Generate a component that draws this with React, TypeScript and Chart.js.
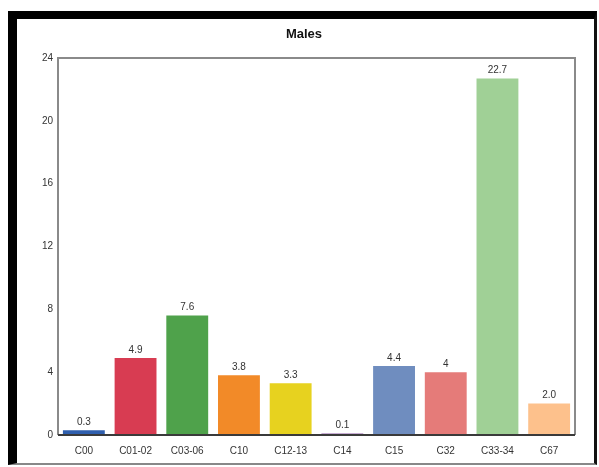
import React, { useEffect, useRef } from "react";
import { Chart, registerables } from "chart.js";

Chart.register(...registerables);

const categories = ["C00", "C01-02", "C03-06", "C10", "C12-13", "C14", "C15", "C32", "C33-34", "C67"];
const values = [0.3, 4.9, 7.6, 3.8, 3.3, 0.1, 4.4, 4, 22.7, 2.0];
const valueLabels = ["0.3", "4.9", "7.6", "3.8", "3.3", "0.1", "4.4", "4", "22.7", "2.0"];
const barColors = [
  "#2f5fae",
  "#d83c52",
  "#4fa24b",
  "#f28a28",
  "#e7d21f",
  "#8f5aa8",
  "#6f8dbf",
  "#e57b79",
  "#a0d096",
  "#fdc18c",
];
const yTicks = [0, 4, 8, 12, 16, 20, 24];
const chartTitle = "Males";

const FONT = "'Liberation Sans', Arial, sans-serif";

const framePlugin = {
  id: "framePlugin",
  afterDatasetsDraw(chart: any) {
    const { ctx, chartArea } = chart;
    const { left, right, top, bottom } = chartArea;
    ctx.save();
    ctx.strokeStyle = "#8a8a8a";
    ctx.lineWidth = 2;
    ctx.beginPath();
    ctx.moveTo(left, bottom);
    ctx.lineTo(left, top);
    ctx.lineTo(right, top);
    ctx.lineTo(right, bottom);
    ctx.stroke();
    ctx.strokeStyle = "#3a3a3a";
    ctx.lineWidth = 2;
    ctx.beginPath();
    ctx.moveTo(left, bottom);
    ctx.lineTo(right, bottom);
    ctx.stroke();
    ctx.restore();
  },
};

const titlePlugin = {
  id: "titlePlugin",
  afterDraw(chart: any) {
    const { ctx } = chart;
    ctx.save();
    ctx.font = `bold 13px ${FONT}`;
    ctx.fillStyle = "#111";
    ctx.textAlign = "center";
    ctx.textBaseline = "middle";
    ctx.fillText(chartTitle, 304, 34);
    ctx.restore();
  },
};

const valueLabelPlugin = {
  id: "valueLabelPlugin",
  afterDatasetsDraw(chart: any) {
    const { ctx } = chart;
    const meta = chart.getDatasetMeta(0);
    ctx.save();
    ctx.font = `10px ${FONT}`;
    ctx.fillStyle = "#333";
    ctx.textAlign = "center";
    ctx.textBaseline = "bottom";
    meta.data.forEach((bar: any, i: number) => {
      ctx.fillText(valueLabels[i], bar.x, bar.y - 3);
    });
    ctx.restore();
  },
};

export default function App() {
  const canvasRef = useRef<HTMLCanvasElement | null>(null);

  useEffect(() => {
    if (!canvasRef.current) return;
    const chart = new Chart(canvasRef.current, {
      type: "bar",
      data: {
        labels: categories,
        datasets: [
          {
            data: values,
            backgroundColor: barColors,
            borderWidth: 0,
            barPercentage: 0.81,
            categoryPercentage: 1,
          },
        ],
      },
      options: {
        animation: false,
        responsive: false,
        devicePixelRatio: 1,
        layout: { padding: { left: 0, right: 24, top: 58, bottom: 0 } },
        plugins: {
          legend: { display: false },
          tooltip: { enabled: false },
          title: { display: false },
        },
        scales: {
          x: {
            grid: { display: false, drawTicks: false },
            border: { display: false },
            ticks: {
              color: "#333",
              font: { family: FONT, size: 10 },
              padding: 10,
              maxRotation: 0,
              autoSkip: false,
            },
            afterFit(scale: any) {
              scale.height = 32;
            },
          },
          y: {
            min: 0,
            max: 24,
            grid: { display: false, drawTicks: false },
            border: { display: false },
            afterBuildTicks(scale: any) {
              scale.ticks = yTicks.map((v) => ({ value: v }));
            },
            ticks: {
              color: "#333",
              font: { family: FONT, size: 10 },
              padding: 5,
            },
            afterFit(scale: any) {
              scale.width = 58;
            },
          },
        },
      },
      plugins: [framePlugin, valueLabelPlugin, titlePlugin],
    });
    return () => chart.destroy();
  }, []);

  return (
    <div style={{ position: "absolute", left: 0, top: 0, width: 599, height: 467, background: "#fff" }}>
      <div
        style={{
          position: "absolute",
          left: 8,
          top: 11,
          width: 589,
          height: 454,
          boxSizing: "border-box",
          borderTop: "8px solid #000",
          borderLeft: "9px solid #000",
          borderRight: "3px solid #111",
          borderBottom: "2px solid #888",
        }}
      />
      <canvas
        ref={canvasRef}
        width={599}
        height={467}
        style={{ position: "absolute", left: 0, top: 0, width: 599, height: 467 }}
      />
    </div>
  );
}
